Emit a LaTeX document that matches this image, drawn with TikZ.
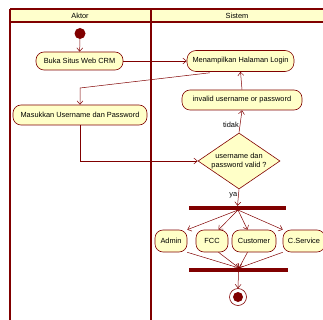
\documentclass[tikz,border=0pt]{standalone}
\usepackage{fontspec}
\setmainfont{Liberation Sans}
\usetikzlibrary{arrows.meta,shapes.geometric}
\definecolor{dred}{RGB}{128,0,0}
\definecolor{ayellow}{RGB}{255,255,200}
\definecolor{hyellow}{RGB}{255,255,204}
\tikzset{
  act/.style={draw=dred, fill=ayellow, rounded corners=8pt, minimum height=20pt, inner sep=1pt, font=\fontsize{7.4}{8.4}\selectfont, line width=0.6pt},
  flow/.style={draw=dred, line width=0.5pt, -{Straight Barb[length=3.5pt,width=6pt]}},
  plain/.style={draw=dred, line width=0.5pt},
  bar/.style={fill=dred, draw=none, minimum height=4pt, inner sep=0pt},
  lane/.style={draw=dred, line width=2pt},
  lbl/.style={font=\fontsize{7.4}{8.4}\selectfont, inner sep=1pt}
}
\begin{document}
\begin{tikzpicture}[x=1pt,y=-1pt]
\useasboundingbox (0,0) rectangle (323,320);
% swimlanes
\fill[hyellow] (10,9) rectangle (330,22);
\draw[dred, line width=1.2pt] (10,9) -- (330,9);
\draw[dred, line width=1.2pt] (10,22) -- (330,22);
\draw[lane] (10,9) -- (10,325);
\draw[lane, line width=2.6pt] (151,9) -- (151,325);
\node[lbl] (haktor) at (80,15.5) {Aktor};
\node[lbl] (hsistem) at (237,15.5) {Sistem};
% nodes
\node[circle, fill=dred, minimum size=11pt, inner sep=0pt] (start) at (80,33.5) {};
\node[act, minimum width=87pt, minimum height=18pt] (buka) at (79.5,61) {Buka Situs Web CRM};
\node[act, minimum width=107pt, minimum height=21pt, rounded corners=9pt] (login) at (240.5,61) {Menampilkan Halaman Login};
\node[act, minimum width=134pt] (masuk) at (80,115) {Masukkan Username dan Password};
\node[act, minimum width=120pt] (invalid) at (242,100) {invalid username or password};
\node[diamond, aspect=1.46, draw=dred, fill=ayellow, line width=0.6pt, minimum width=82pt, minimum height=56pt, inner sep=0pt, align=center, font=\fontsize{7.4}{8.6}\selectfont] (valid) at (239,161) {username dan\\password valid ?};
\node[bar, minimum width=97pt] (fork) at (237.5,208) {};
\node[bar, minimum width=99pt] (join) at (238.5,270) {};
\node[act, minimum width=32pt, minimum height=22pt] (admin) at (171,241) {Admin};
\node[act, minimum width=32pt, minimum height=22pt] (fcc) at (212,241) {FCC};
\node[act, minimum width=44pt, minimum height=22pt] (cust) at (254,241) {Customer};
\node[act, minimum width=42pt, minimum height=22pt] (cs) at (304,241) {C.Service};
\node[circle, draw=dred, fill=white, line width=0.6pt, minimum size=17pt, inner sep=0pt] (end) at (238,297) {};
\node[circle, fill=dred, minimum size=10pt, inner sep=0pt] (endin) at (238,297) {};
% connectors
\coordinate (b1) at (80,88);
\coordinate (fk) at (238,210);
\coordinate (jn) at (239,268);
\draw[flow] (start) -- (buka);
\draw[flow] (buka.east) -- (login.west);
\draw[flow] ([xshift=-1pt,yshift=-1pt]login.200) -- (b1) -- (masuk.north);
\draw[flow] (invalid.north) -- (login.south);
\draw[flow] (masuk.south) |- (valid.west);
\draw[flow] (valid.north) -- node[lbl, left, pos=0.35] (ltidak) {tidak} (invalid.south);
\draw[flow] (valid.south) -- node[lbl, left, pos=0.35] (lya) {ya} (fork.north);
\draw[flow] (fk) -- (admin.north east);
\draw[flow] (fk) -- (fcc.60);
\draw[flow] (fk) -- (cust.120);
\draw[flow] (fk) -- (cs.north west);
\draw[flow] (admin.south east) -- (jn);
\draw[flow] (fcc.300) -- (jn);
\draw[flow] (cust.240) -- (jn);
\draw[flow] (cs.south west) -- (jn);
\draw[flow] (join.south) -- (end.north);
\end{tikzpicture}
\end{document}
